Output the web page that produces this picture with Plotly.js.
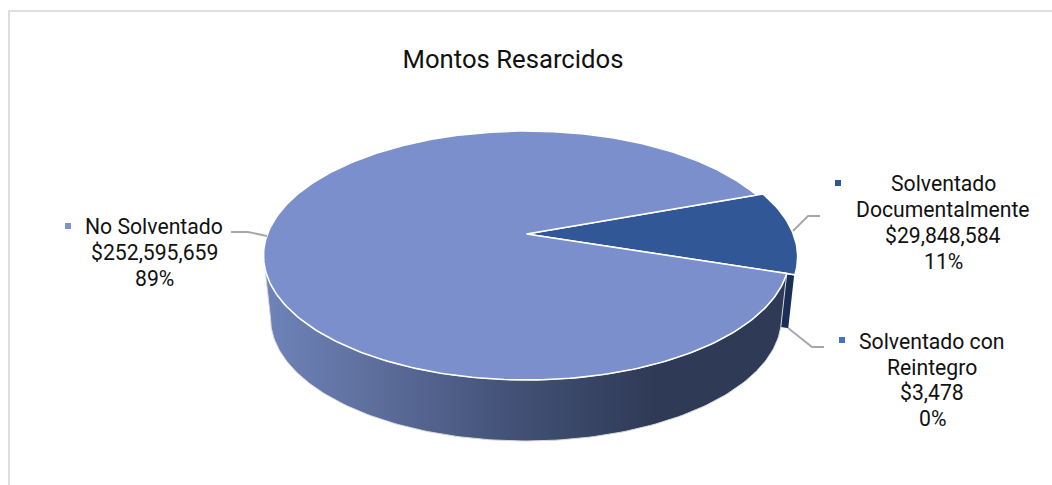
<!DOCTYPE html>
<html>
<head>
<meta charset="utf-8">
<script src="https://cdn.plot.ly/plotly-3.0.1.min.js"></script>
<style>html,body{margin:0;padding:0;background:#fff;overflow:hidden}</style>
</head>
<body>
<div id="chart" style="width:1052px;height:485px"></div>
<script>
// Data
const categories = ['Solventado Documentalmente', 'Solventado con Reintegro', 'No Solventado'];
const labelLines = [['Solventado', 'Documentalmente'], ['Solventado con', 'Reintegro'], ['No Solventado']];
const values = [29848584, 3478, 252595659];
const sliceColors = ['#325796', '#1b2e55', '#7a8fcc'];
const keyColors = ['#2f5597', '#4472c4', '#7e94cc'];
const chartTitle = 'Montos Resarcidos';

// Pie geometry, in page pixels
const top3d = {cx: 526.5, cy: 255.5, rx: 263, ry: 124.5, k: 0.173};
const bottom3d = {cx: 526, cy: 318, rx: 255.5, ry: 123, k: 0.236};
const startDeg = 20, explode = 1.03;
const labelPos = [[943, 222.5], [932, 380], [154, 252.5]];
const keyPos = [[838, 183], [842, 340], [68, 226]];
const lineGap = 25.7;

function proj(e, deg, r) {
  const a = deg * Math.PI / 180;
  const d = 1 + e.k * r * Math.sin(a);
  const s = Math.sqrt(1 - e.k * e.k);
  return [e.cx + e.rx * r * Math.cos(a) * s / d, e.cy - e.ry * (r * Math.sin(a) + e.k) / d];
}
function arc(e, a0, a1, r) {
  const n = Math.max(2, Math.ceil(Math.abs(a1 - a0) / 1));
  const out = [];
  for (let i = 0; i <= n; i++) out.push(proj(e, a0 + (a1 - a0) * i / n, r));
  return out;
}
const leftmost = e => -180 + Math.asin(e.k) * 180 / Math.PI;
const total = values.reduce((a, b) => a + b, 0);
const spans = [];
let ang = startDeg;
values.forEach(v => { const next = ang - v / total * 360; spans.push([ang, next]); ang = next; });

function poly(pts, color, line, extra) {
  return Object.assign({
    type: 'scatter', mode: 'lines', x: pts.map(p => p[0]), y: pts.map(p => p[1]),
    fill: 'toself', fillcolor: color, line: line || {width: 0}, hoverinfo: 'skip', showlegend: false
  }, extra || {});
}
const traces = [];
const rimLine = {color: '#d9d9d9', width: 1};
const whiteLine = {color: '#ffffff', width: 1.6};

// side of the exploded slice
const e0 = spans[0][1];
traces.push(poly(arc(top3d, 0, e0, explode).concat(arc(bottom3d, e0, 0, explode)), '#ffffff', rimLine));
// cut face
const eTop = proj(top3d, e0, explode), eBot = proj(bottom3d, e0, explode);
const cTop = proj(top3d, 0, 0), cBot = proj(bottom3d, 0, 0);
traces.push(poly([eTop, eBot, cBot, cTop, eTop], sliceColors[1], whiteLine));

// wall of the main slice
const m0 = spans[2][0];
const wall = arc(bottom3d, leftmost(bottom3d), m0, 1).concat(arc(top3d, m0, leftmost(top3d), 1));
wall.push(wall[0]);
traces.push(poly(wall, '#2f3a56', rimLine, {
  fillgradient: {type: 'horizontal', start: 270, stop: 655,
    colorscale: [[0, '#6d82b8'], [0.25, '#5f709f'], [0.6, '#445379'], [1, '#2f3a56']]}
}));

// slice tops, drawn from the values
[0, 1, 2].forEach(i => {
  const big = i === 0 ? explode : 1;
  const pts = [proj(top3d, 0, 0)].concat(arc(top3d, spans[i][0], spans[i][1], big));
  pts.push(pts[0]);
  if (i !== 1) traces.push(poly(pts, sliceColors[i], whiteLine));
});

// legend keys
traces.push({
  type: 'scatter', mode: 'markers', x: keyPos.map(p => p[0]), y: keyPos.map(p => p[1]),
  marker: {symbol: 'square', size: 6, color: keyColors}, hoverinfo: 'skip', showlegend: false
});

const annotations = [];
categories.forEach((c, i) => {
  const lines = labelLines[i].concat(['$' + values[i].toLocaleString('en-US'), Math.round(values[i] / total * 100) + '%']);
  lines.forEach((t, j) => annotations.push({
    x: labelPos[i][0], y: labelPos[i][1] + (j - (lines.length - 1) / 2) * lineGap,
    xref: 'x', yref: 'y', showarrow: false, xanchor: 'center', yanchor: 'middle', align: 'center',
    text: t, font: {family: 'Roboto', size: 21.2, color: '#111111'}
  }));
});

const leader = {color: '#a6a6a6', width: 1.8};
const shapes = [
  {type: 'rect', xref: 'x', yref: 'y', x0: 9, y0: 11, x1: 1070, y1: 510, line: {color: '#dedede', width: 2}, layer: 'below'},
  {type: 'path', xref: 'x', yref: 'y', path: 'M231,232 L248,232 L267,236', line: leader},
  {type: 'path', xref: 'x', yref: 'y', path: 'M793,231 L808,216 L820,216', line: leader},
  {type: 'path', xref: 'x', yref: 'y', path: 'M788,328 L812,347 L824,347', line: leader}
];

Plotly.newPlot('chart', traces, {
  width: 1052, height: 485,
  margin: {l: 0, r: 0, t: 0, b: 0},
  paper_bgcolor: '#ffffff', plot_bgcolor: '#ffffff',
  title: {text: chartTitle, x: 513 / 1052, xanchor: 'center', y: 1 - 59 / 485, yanchor: 'middle',
    font: {family: 'Roboto', size: 25.7, color: '#111111'}},
  xaxis: {visible: false, range: [0, 1052], fixedrange: true},
  yaxis: {visible: false, range: [485, 0], fixedrange: true},
  annotations, shapes
}, {displayModeBar: false, staticPlot: true});
</script>
</body>
</html>
